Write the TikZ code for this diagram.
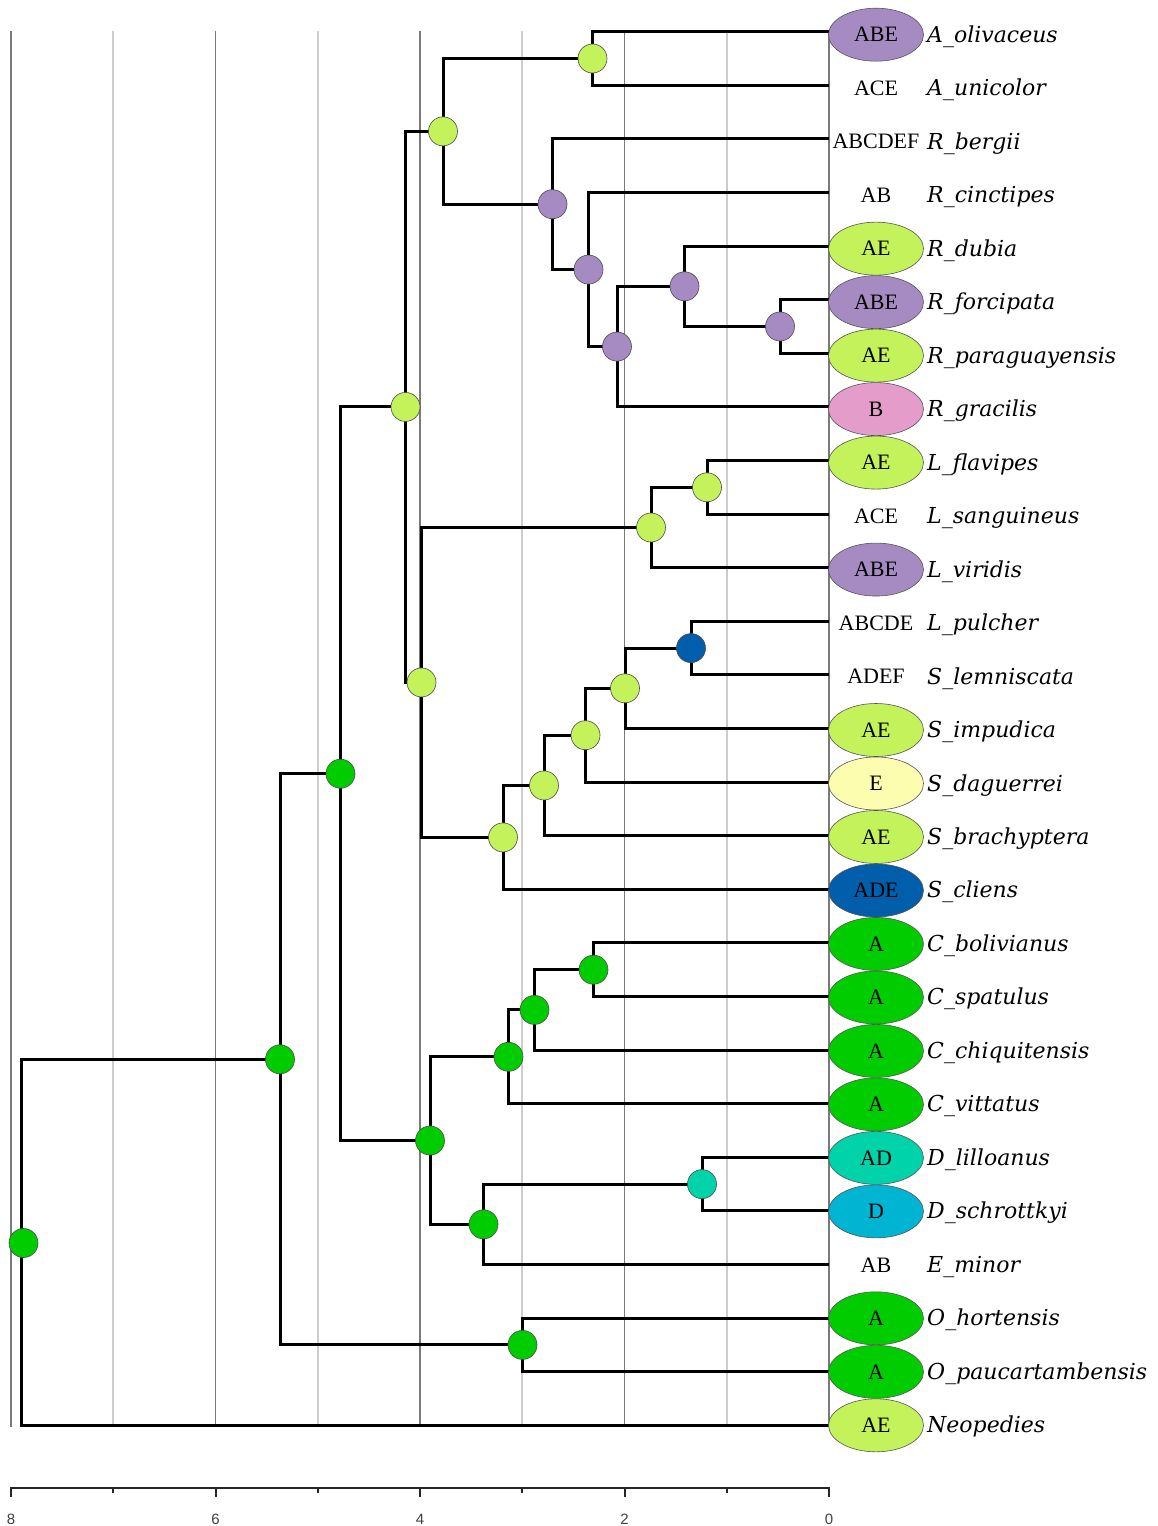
\documentclass[tikz,border=0pt]{standalone}
\usepackage{fontspec}
\setmainfont{Liberation Serif}
\newfontfamily\spfam{DejaVu Serif}
\newfontfamily\axfam{Liberation Sans}
\usetikzlibrary{shapes.geometric}
\definecolor{clg}{HTML}{C3F25A}
\definecolor{cpur}{HTML}{A68BC3}
\definecolor{cpink}{HTML}{E49CCB}
\definecolor{cyel}{HTML}{FDFDB0}
\definecolor{cblue}{HTML}{005EAA}
\definecolor{cgreen}{HTML}{00CC00}
\definecolor{cteal}{HTML}{00D2AA}
\definecolor{ccyan}{HTML}{00B4D2}
\definecolor{elline}{HTML}{555555}
\definecolor{gdark}{HTML}{7A7A7A}
\definecolor{glight}{HTML}{CDCDCD}
\begin{document}
\begin{tikzpicture}[x=1pt,y=-1pt,
  branch/.style={line width=3pt, black},
  gridD/.style={line width=1.6pt, gdark},
  gridL/.style={line width=1.6pt, glight},
  axisln/.style={line width=2pt, black!85},
  nd/.style={circle, inner sep=0pt, minimum size=29pt, draw=black!70, line width=0.6pt},
  ell/.style={ellipse, minimum width=95pt, minimum height=53pt, inner sep=0pt, line width=0.6pt,
              font=\fontsize{22}{25}\selectfont},
  sp/.style={font=\spfam\itshape\fontsize{22}{25}\selectfont, anchor=base west, inner sep=0pt},
  ticklab/.style={font=\axfam\fontsize{15}{17}\selectfont, text=black!75, inner sep=0pt}]
\useasboundingbox (0,0) rectangle (1158,1526);
\fill[white] (0,0) rectangle (1158,1526);

% grid lines
\foreach \gx in {11,215.5,420,624.5,829} \draw[gridD] (\gx,31) -- (\gx,1427);
\foreach \gx in {113.25,317.75,522.25,726.75} \draw[gridL] (\gx,31) -- (\gx,1427);

% axis
\coordinate (ax0) at (829,1488);
\coordinate (ax8) at (11,1488);
\draw[axisln] (ax8) -- (ax0);
\foreach \gx in {11,215.5,420,624.5,829} \draw[axisln] (\gx,1487) -- (\gx,1497);
\foreach \gx in {113.25,317.75,522.25,726.75} \draw[axisln] (\gx,1487) -- (\gx,1493);
\node[ticklab] (lab8) at (11,1519) {8};
\node[ticklab] (lab6) at (215.5,1519) {6};
\node[ticklab] (lab4) at (420,1519) {4};
\node[ticklab] (lab2) at (624.5,1519) {2};
\node[ticklab] (lab0) at (829,1519) {0};

% leaf tips
\foreach \i in {1,...,27} {
  \pgfmathsetmacro\ly{31.7+(\i-1)*53.6}
  \coordinate (t\i) at (829,\ly);
}

% internal nodes
\coordinate (A) at (592.5,58.5);
\coordinate (AR) at (443,131.35);
\coordinate (R1) at (552.5,204.2);
\coordinate (R2) at (588.5,269.55);
\coordinate (R3) at (617,346.6);
\coordinate (R4) at (684.5,286.3);
\coordinate (R5) at (780,326.5);
\coordinate (ARLS) at (405.5,406.9);
\coordinate (LS) at (421.5,682.45);
\coordinate (L1) at (651,527.5);
\coordinate (L2) at (707,487.3);
\coordinate (S1) at (503,837.4);
\coordinate (S2) at (544,785.45);
\coordinate (S3) at (585.5,735.2);
\coordinate (S4) at (625,688.3);
\coordinate (S5) at (691,648.1);
\coordinate (BIG) at (340.5,773.7);
\coordinate (C1) at (593.5,969.7);
\coordinate (C2) at (534.5,1009.9);
\coordinate (C3) at (508.5,1056.8);
\coordinate (CDE) at (430,1140.55);
\coordinate (DE) at (483.5,1224.3);
\coordinate (D) at (702,1184.1);
\coordinate (O) at (522.5,1344.9);
\coordinate (ALL) at (280,1059.3);
\coordinate (ROOT) at (21.5,1242.3);

% branches
\draw[branch] (A) |- (t1) (A) |- (t2);
\draw[branch] (AR) |- (A) (AR) |- (R1);
\draw[branch] (R1) |- (t3) (R1) |- (R2);
\draw[branch] (R2) |- (t4) (R2) |- (R3);
\draw[branch] (R3) |- (R4) (R3) |- (t8);
\draw[branch] (R4) |- (t5) (R4) |- (R5);
\draw[branch] (R5) |- (t6) (R5) |- (t7);
\draw[branch] (ARLS) |- (AR) (ARLS) |- (LS);
\draw[branch] (LS) |- (L1) (LS) |- (S1);
\draw[branch] (L1) |- (L2) (L1) |- (t11);
\draw[branch] (L2) |- (t9) (L2) |- (t10);
\draw[branch] (S1) |- (S2) (S1) |- (t17);
\draw[branch] (S2) |- (S3) (S2) |- (t16);
\draw[branch] (S3) |- (S4) (S3) |- (t15);
\draw[branch] (S4) |- (S5) (S4) |- (t14);
\draw[branch] (S5) |- (t12) (S5) |- (t13);
\draw[branch] (BIG) |- (ARLS) (BIG) |- (CDE);
\draw[branch] (CDE) |- (C3) (CDE) |- (DE);
\draw[branch] (C3) |- (C2) (C3) |- (t21);
\draw[branch] (C2) |- (C1) (C2) |- (t20);
\draw[branch] (C1) |- (t18) (C1) |- (t19);
\draw[branch] (DE) |- (D) (DE) |- (t24);
\draw[branch] (D) |- (t22) (D) |- (t23);
\draw[branch] (ALL) |- (BIG) (ALL) |- (O);
\draw[branch] (O) |- (t25) (O) |- (t26);
\draw[branch] (ROOT) |- (ALL) (ROOT) |- (t27);

% node circles
\foreach \n/\c in {A/clg,AR/clg,R1/cpur,R2/cpur,R3/cpur,R4/cpur,R5/cpur,ARLS/clg,LS/clg,
  L1/clg,L2/clg,S1/clg,S2/clg,S3/clg,S4/clg,S5/cblue,BIG/cgreen,C1/cgreen,C2/cgreen,
  C3/cgreen,CDE/cgreen,DE/cgreen,D/cteal,O/cgreen,ALL/cgreen}
  \node[nd, fill=\c] (n\n) at (\n) {};
\node[nd, fill=cgreen] (nROOT) at (23.5,1243) {};

% tip ellipses and labels
\foreach \i/\code/\col/\dc/\name in {
  1/ABE/cpur/elline/A\_olivaceus,
  2/ACE/none/none/A\_unicolor,
  3/ABCDEF/none/none/R\_bergii,
  4/AB/none/none/R\_cinctipes,
  5/AE/clg/elline/R\_dubia,
  6/ABE/cpur/elline/R\_forcipata,
  7/AE/clg/elline/R\_paraguayensis,
  8/B/cpink/elline/R\_gracilis,
  9/AE/clg/elline/L\_flavipes,
  10/ACE/none/none/L\_sanguineus,
  11/ABE/cpur/elline/L\_viridis,
  12/ABCDE/none/none/L\_pulcher,
  13/ADEF/none/none/S\_lemniscata,
  14/AE/clg/elline/S\_impudica,
  15/E/cyel/elline/S\_daguerrei,
  16/AE/clg/elline/S\_brachyptera,
  17/ADE/cblue/elline/S\_cliens,
  18/A/cgreen/elline/C\_bolivianus,
  19/A/cgreen/elline/C\_spatulus,
  20/A/cgreen/elline/C\_chiquitensis,
  21/A/cgreen/elline/C\_vittatus,
  22/AD/cteal/elline/D\_lilloanus,
  23/D/ccyan/elline/D\_schrottkyi,
  24/AB/none/none/E\_minor,
  25/A/cgreen/elline/O\_hortensis,
  26/A/cgreen/elline/O\_paucartambensis,
  27/AE/clg/elline/Neopedies} {
  \pgfmathsetmacro\cy{31.7+(\i-1)*53.6+3-0.115*(\i-1)}
  \node[ell, fill=\col, draw=\dc] (e\i) at (876,\cy) {\code};
  \node[sp] (s\i) at (927,\cy+7.5) {\name};
}
\end{tikzpicture}
\end{document}
